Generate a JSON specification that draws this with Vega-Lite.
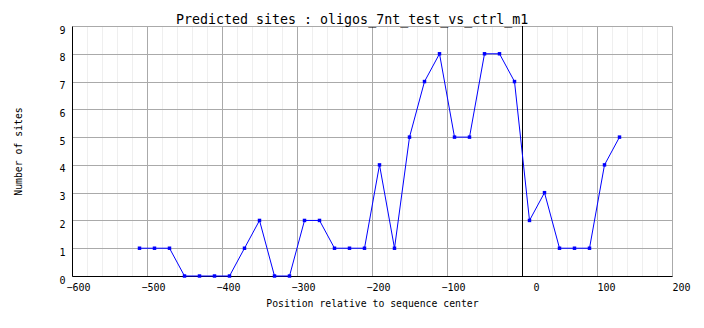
{
  "$schema": "https://vega.github.io/schema/vega-lite/v6.json",
  "width": 600,
  "height": 250,
  "autosize": {"type": "none"},
  "padding": {"left": 72, "top": 26, "right": 32, "bottom": 52},
  "background": "white",
  "title": {
    "text": "Predicted sites : oligos_7nt_test_vs_ctrl_m1",
    "font": "DejaVu Sans Mono",
    "fontSize": 13.3,
    "fontWeight": "normal",
    "color": "black",
    "anchor": "start",
    "frame": "group",
    "dx": 104,
    "dy": 15,
    "baseline": "alphabetic",
    "offset": 3
  },
  "config": {
    "view": {"stroke": null},
    "axis": {
      "labelFont": "DejaVu Sans Mono",
      "labelFontSize": 10,
      "labelColor": "black",
      "titleFont": "DejaVu Sans Mono",
      "titleFontSize": 9.8,
      "titleFontWeight": "normal",
      "titleColor": "black",
      "domainColor": "black",
      "domainWidth": 1,
      "ticks": false,
      "gridOpacity": 1,
      "gridWidth": 1
    }
  },
  "data": {
    "values": [
      {"pos": -510, "n": 1}, {"pos": -490, "n": 1}, {"pos": -470, "n": 1},
      {"pos": -450, "n": 0}, {"pos": -430, "n": 0}, {"pos": -410, "n": 0},
      {"pos": -390, "n": 0}, {"pos": -370, "n": 1}, {"pos": -350, "n": 2},
      {"pos": -330, "n": 0}, {"pos": -310, "n": 0}, {"pos": -290, "n": 2},
      {"pos": -270, "n": 2}, {"pos": -250, "n": 1}, {"pos": -230, "n": 1},
      {"pos": -210, "n": 1}, {"pos": -190, "n": 4}, {"pos": -170, "n": 1},
      {"pos": -150, "n": 5}, {"pos": -130, "n": 7}, {"pos": -110, "n": 8},
      {"pos": -90, "n": 5}, {"pos": -70, "n": 5}, {"pos": -50, "n": 8},
      {"pos": -30, "n": 8}, {"pos": -10, "n": 7}, {"pos": 10, "n": 2},
      {"pos": 30, "n": 3}, {"pos": 50, "n": 1}, {"pos": 70, "n": 1},
      {"pos": 90, "n": 1}, {"pos": 110, "n": 4}, {"pos": 130, "n": 5}
    ]
  },
  "resolve": {"axis": {"x": "independent"}},
  "layer": [
    {
      "mark": {"type": "rule", "color": "black", "strokeWidth": 1, "xOffset": 0.5},
      "encoding": {
        "x": {
          "datum": 0, "type": "quantitative",
          "scale": {"domain": [-600, 200], "nice": false, "zero": false},
          "axis": {
            "orient": "bottom",
            "grid": true,
            "title": null,
            "labels": false,
            "domain": false,
            "values": [-580,-560,-540,-520,-480,-460,-440,-420,-380,-360,-340,-320,-280,-260,-240,-220,-180,-160,-140,-120,-80,-60,-40,-20,20,40,60,80,120,140,160,180],
            "gridColor": "#efefef"
          }
        }
      }
    },
    {
      "mark": {"type": "line", "color": "#0000ff", "strokeWidth": 1, "point": {"shape": "square", "size": 12, "color": "#0000ff", "filled": true}},
      "encoding": {
        "x": {
          "field": "pos", "type": "quantitative",
          "scale": {"domain": [-600, 200], "nice": false, "zero": false},
          "axis": {
            "orient": "bottom",
            "grid": true,
            "title": "Position relative to sequence center",
            "values": [-600,-500,-400,-300,-200,-100,0,100,200],
            "labelAlign": "left",
            "labelOffset": {"condition": [{"test": "datum.value < 0", "value": -6}, {"test": "datum.value === 0", "value": 11}], "value": 0},
            "labelPadding": 6,
            "labelFlush": false,
            "labelOverlap": false,
            "gridColor": "#aaaaaa",
            "titlePadding": 6
          }
        },
        "y": {
          "field": "n", "type": "quantitative",
          "scale": {"domain": [0, 9], "nice": false},
          "axis": {
            "title": "Number of sites",
            "values": [0,1,2,3,4,5,6,7,8,9],
            "labelBaseline": "alphabetic",
            "labelOffset": 7,
            "labelPadding": 7,
            "labelFlush": false,
            "gridColor": "#aaaaaa",
            "titlePadding": 35
          }
        }
      }
    }
  ]
}
